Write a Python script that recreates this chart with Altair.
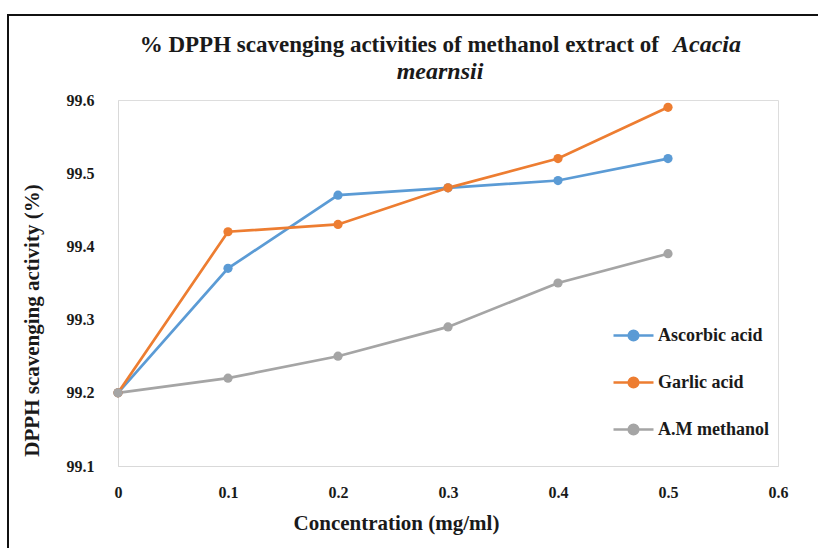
import altair as alt
import pandas as pd

concentration = [0, 0.1, 0.2, 0.3, 0.4, 0.5]
ascorbic = [99.20, 99.37, 99.47, 99.48, 99.49, 99.52]
garlic = [99.20, 99.42, 99.43, 99.48, 99.52, 99.59]
am_methanol = [99.20, 99.22, 99.25, 99.29, 99.35, 99.39]
series_names = ["Ascorbic acid", "Garlic acid", "A.M methanol"]
series_colors = ["#5B9BD5", "#ED7D31", "#A5A5A5"]
title_main = "% DPPH scavenging activities of methanol extract of"
title_italic1 = "Acacia"
title_italic2 = "mearnsii"
x_ticks = [0, 0.1, 0.2, 0.3, 0.4, 0.5, 0.6]
y_ticks = [99.1, 99.2, 99.3, 99.4, 99.5, 99.6]

rows = []
for name, vals in zip(series_names, [ascorbic, garlic, am_methanol]):
    for c, v in zip(concentration, vals):
        rows.append({"Concentration": c, "Value": v, "Series": name})
df = pd.DataFrame(rows)

W, H = 660, 366
FONT = "Liberation Serif"
TXT = "#1a1a1a"

color = alt.Color(
    "Series:N",
    scale=alt.Scale(domain=series_names, range=series_colors),
    legend=alt.Legend(
        title=None,
        orient="none",
        legendX=494,
        legendY=214,
        labelFont=FONT,
        labelFontSize=18,
        labelFontWeight="bold",
        labelColor=TXT,
        symbolType="M-1,0 L1,0 M-0.24,0 A0.24,0.24 0 1,1 0.24,0 A0.24,0.24 0 1,1 -0.24,0 Z",
        symbolSize=1600,
        symbolStrokeWidth=2.5,
        rowPadding=15,
        labelOffset=3,
    ),
)

x_enc = alt.X(
    "Concentration:Q",
    scale=alt.Scale(domain=[0, 0.6], nice=False),
    axis=alt.Axis(
        values=x_ticks,
        labelExpr="datum.value == 0 ? '0' : format(datum.value, '.1f')",
        labelFlush=False,
        title="Concentration (mg/ml)",
        grid=False,
        ticks=False,
        domainColor="#d9d9d9",
        labelFont=FONT,
        labelFontSize=16,
        labelFontWeight="bold",
        labelColor=TXT,
        labelPadding=18,
        titleFont=FONT,
        titleFontSize=21,
        titleFontWeight="bold",
        titleColor=TXT,
        titleX=278,
        titleY=46,
    ),
)
y_enc = alt.Y(
    "Value:Q",
    scale=alt.Scale(domain=[99.1, 99.6], nice=False, zero=False),
    axis=alt.Axis(
        values=y_ticks,
        format=".1f",
        labelFlush=False,
        title="DPPH scavenging activity (%)",
        grid=False,
        ticks=False,
        domainColor="#d9d9d9",
        labelFont=FONT,
        labelFontSize=16,
        labelFontWeight="bold",
        labelColor=TXT,
        labelPadding=24,
        titleFont=FONT,
        titleFontSize=21,
        titleFontWeight="bold",
        titleColor=TXT,
        titleX=-76,
        titleY=220,
    ),
)

lines = alt.Chart(df).mark_line(strokeWidth=2.7, point=alt.OverlayMarkDef(size=85, filled=True)).encode(
    x=x_enc, y=y_enc, color=color, order="Concentration:Q"
)

border = alt.Chart(pd.DataFrame({"a": [0]})).mark_rect(
    fill=None, stroke="#111111", strokeWidth=2, clip=False
).encode(
    x=alt.value(-110), x2=alt.value(W + 60), y=alt.value(-85), y2=alt.value(H + 120)
)

t_main = alt.Chart(pd.DataFrame({"t": [title_main]})).mark_text(
    font=FONT, fontSize=23, fontWeight="bold", align="right", baseline="middle", color=TXT
).encode(text="t:N", x=alt.value(541), y=alt.value(-55))
t_it1 = alt.Chart(pd.DataFrame({"t": [title_italic1]})).mark_text(
    font=FONT, fontSize=24, fontWeight="bold", fontStyle="italic", align="left", baseline="middle", color=TXT
).encode(text="t:N", x=alt.value(555), y=alt.value(-55))
t_it2 = alt.Chart(pd.DataFrame({"t": [title_italic2]})).mark_text(
    font=FONT, fontSize=24, fontWeight="bold", fontStyle="italic", align="center", baseline="middle", color=TXT
).encode(text="t:N", x=alt.value(322), y=alt.value(-28))

chart = alt.layer(border, lines, t_main, t_it1, t_it2).properties(
    width=W,
    height=H,
    autosize=alt.AutoSizeParams(type="none"),
    padding={"left": 118, "top": 100, "right": 40, "bottom": 82},
).configure_view(stroke=None).configure(background="white")

chart.save("out.html", embed_options={"renderer": "svg", "actions": False})
